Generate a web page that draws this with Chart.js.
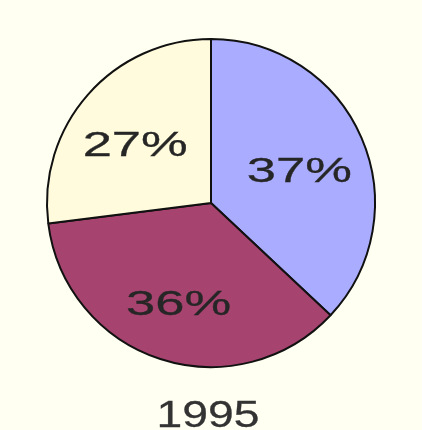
<!DOCTYPE html>
<html>
<head>
<meta charset="utf-8">
<script src="https://cdn.jsdelivr.net/npm/chart.js@4"></script>
<style>
  html, body { margin: 0; padding: 0; background: #fffff2; }
  #wrap { width: 422px; height: 430px; }
</style>
</head>
<body>
<div id="wrap"><canvas id="pieChart" width="422" height="430"></canvas></div>
<script>
/* =======================
   DADOS
======================= */

const categories = ["A", "B", "C"];
const shares = [37, 36, 27];
const sliceColors = ["#aaacff", "#a6446f", "#fffbdc"];
const yearLabel = "1995";

/* =======================
   RÓTULOS (texto esticado)
======================= */

function stretchedText(ctx, text, x, y, sx) {
  ctx.save();
  ctx.translate(x, y);
  ctx.scale(sx, 1);
  ctx.fillText(text, 0, 0);
  ctx.strokeText(text, 0, 0);
  ctx.restore();
}

const sliceLabels = {
  id: "sliceLabels",
  afterDatasetsDraw(chart) {
    const ctx = chart.ctx;
    const arcs = chart.getDatasetMeta(0).data;

    ctx.save();
    ctx.textAlign = "center";
    ctx.textBaseline = "alphabetic";
    ctx.lineWidth = 0.3;

    // percentuais dentro das fatias
    ctx.font = '35px "Liberation Sans", Arial, sans-serif';
    ctx.fillStyle = "#262626";
    ctx.strokeStyle = "#262626";
    arcs.forEach((arc, i) => {
      const mid = (arc.startAngle + arc.endAngle) / 2;
      const r = arc.outerRadius * 0.6;
      const x = arc.x + Math.cos(mid) * r - 2;
      const y = arc.y + Math.sin(mid) * r + 18;
      stretchedText(ctx, shares[i] + "%", x, y, 1.5);
    });

    // ano embaixo
    ctx.font = '37px "Liberation Sans", Arial, sans-serif';
    ctx.fillStyle = "#333";
    ctx.strokeStyle = "#333";
    stretchedText(ctx, yearLabel, chart.width / 2 - 3, chart.chartArea.bottom + 59, 1.25);
    ctx.restore();
  }
};

/* =======================
   GRÁFICO
======================= */

new Chart(document.getElementById("pieChart"), {
  type: "pie",
  data: {
    labels: categories,
    datasets: [{
      data: shares,
      backgroundColor: sliceColors,
      borderColor: "#111",
      borderWidth: 2
    }]
  },
  options: {
    responsive: false,
    animation: false,
    layout: { padding: { top: 38, left: 46, right: 46, bottom: 62 } },
    plugins: {
      legend: { display: false },
      tooltip: { enabled: false }
    }
  },
  plugins: [sliceLabels]
});
</script>
</body>
</html>
